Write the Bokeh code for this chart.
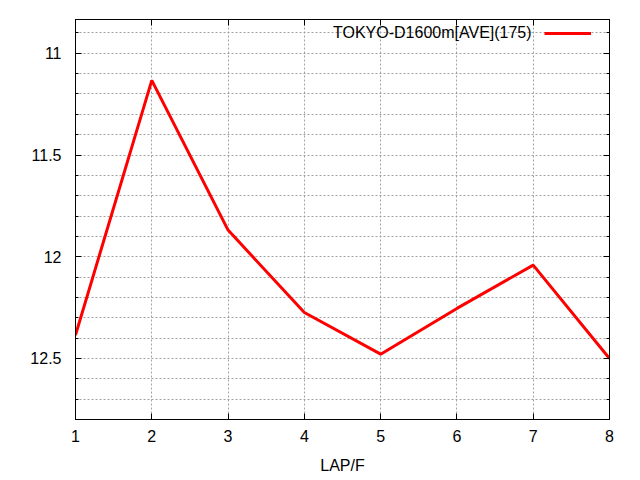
from bokeh.plotting import figure
from bokeh.models import (Range1d, FixedTicker, LinearAxis, Legend,
                          LegendItem, ColumnDataSource)
from bokeh.embed import file_html
from bokeh.resources import INLINE

# data
laps = [1, 2, 3, 4, 5, 6, 7, 8]
lap_times = [12.385, 11.133, 11.869, 12.274, 12.479, 12.254, 12.041, 12.5]
series_name = "TOKYO-D1600m[AVE](175)"

x_ticks = [1, 2, 3, 4, 5, 6, 7, 8]
y_ticks = [11, 11.5, 12, 12.5]
y_tick_labels = ["11", "11.5", "12", "12.5"]
y_minor_ticks = [10.9, 11.1, 11.2, 11.3, 11.4, 11.6, 11.7, 11.8, 11.9,
                 12.1, 12.2, 12.3, 12.4, 12.6, 12.7]
y_top = 10.834
y_bottom = 12.8

FONT = "Liberation Sans"
GRID = "#a0a0a0"

source = ColumnDataSource(data=dict(lap=laps, time=lap_times))

p = figure(width=640, height=480, output_backend="svg", toolbar_location=None,
           x_range=Range1d(laps[0], laps[-1]),
           y_range=Range1d(y_bottom, y_top),
           min_border_left=75, min_border_right=31,
           min_border_top=19, min_border_bottom=61)
p.background_fill_color = "white"
p.border_fill_color = "white"
p.outline_line_color = "black"
p.outline_line_width = 1

xt = FixedTicker(ticks=x_ticks, minor_ticks=[])
yt = FixedTicker(ticks=y_ticks, minor_ticks=y_minor_ticks)

bottom_ax = p.below[0]
left_ax = p.left[0]
bottom_ax.ticker = xt
left_ax.ticker = yt
left_ax.major_label_overrides = dict(zip(y_ticks, y_tick_labels))

# mirrored tick marks on top and right, no labels
top_ax = LinearAxis(ticker=xt,
                    major_label_overrides={t: "" for t in x_ticks})
right_ax = LinearAxis(ticker=yt,
                      major_label_overrides={t: "" for t in y_ticks})
p.add_layout(top_ax, "above")
p.add_layout(right_ax, "right")

for ax in (bottom_ax, left_ax, top_ax, right_ax):
    ax.axis_line_color = "black"
    ax.major_tick_line_color = "black"
    ax.minor_tick_line_color = "black"
    ax.major_tick_in = 6
    ax.major_tick_out = 0
    ax.minor_tick_in = 3
    ax.minor_tick_out = 0
    ax.major_label_text_font = FONT
    ax.major_label_text_font_size = "16px"
    ax.major_label_text_color = "black"

for ax in (top_ax, right_ax):
    ax.major_label_text_font_size = "1px"
    ax.major_label_standoff = 0

bottom_ax.major_label_standoff = 10
left_ax.major_label_standoff = 14
bottom_ax.axis_label = "LAP/F"
bottom_ax.axis_label_text_font = FONT
bottom_ax.axis_label_text_font_size = "16px"
bottom_ax.axis_label_text_font_style = "normal"
bottom_ax.axis_label_text_color = "black"
bottom_ax.axis_label_standoff = 12

p.xgrid.ticker = xt
p.xgrid.grid_line_color = GRID
p.xgrid.grid_line_dash = "2 2"
p.ygrid.ticker = yt
p.ygrid.grid_line_color = GRID
p.ygrid.grid_line_dash = "2 2"
p.ygrid.minor_grid_line_color = GRID
p.ygrid.minor_grid_line_dash = "2 2"

r = p.line("lap", "time", source=source, line_color="#ff0000", line_width=3)

# gnuplot style key: text first, sample line after it
key_text = Legend(items=[LegendItem(label=series_name, renderers=[r])],
                  location=(258, 376), glyph_width=0, glyph_height=20,
                  label_height=20, label_standoff=0, padding=0, margin=0,
                  spacing=0, border_line_color=None, background_fill_alpha=0,
                  label_text_font=FONT, label_text_font_size="16px",
                  label_text_color="black")
key_line = Legend(items=[LegendItem(label=" ", renderers=[r])],
                  location=(469, 376), glyph_width=47, glyph_height=20,
                  label_height=20, label_standoff=0, padding=0, margin=0,
                  spacing=0, border_line_color=None, background_fill_alpha=0,
                  label_text_font=FONT, label_text_font_size="16px")
p.add_layout(key_text)
p.add_layout(key_line)

open("out.html", "w").write(file_html(p, INLINE))
